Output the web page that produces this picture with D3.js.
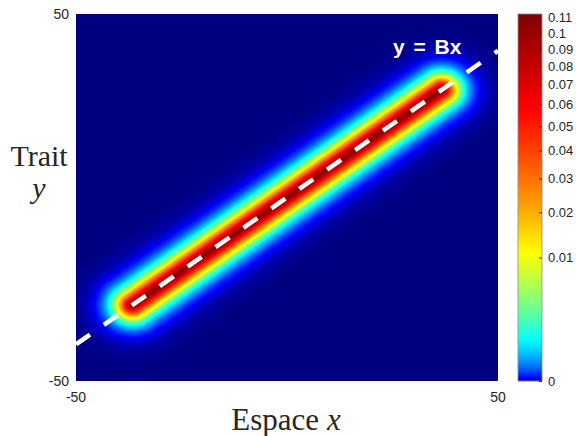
<!DOCTYPE html>
<html>
<head>
<meta charset="utf-8">
<script src="https://cdn.jsdelivr.net/npm/d3@7"></script>
<style>
  body { margin: 0; background: #fff; }
  svg { display: block; }
</style>
</head>
<body>
<div id="chart"></div>
<script>
// axis ranges and labels
var xDomain = [-50, 50];
var yDomain = [-50, 50];
var xTicks = [-50, 50];
var yTicks = [-50, 50];

// colour bar ticks
var cbarTicks = [0, 0.01, 0.02, 0.03, 0.04, 0.05, 0.06, 0.07, 0.08, 0.09, 0.1, 0.11];
var cbarMax = 0.1125;

// band model: y = B x, flat along the segment,
// peaked profile across the line
var slopeB = 0.8;
var bandHalfLength = 36.6;   // in x
var bandWidth = 2.19;        // across the line
var bandShape = 1.64;
var bandPeak = 0.105;

var totalWidth = 576, totalHeight = 436;
var plot = {left: 76, top: 14, right: 498, bottom: 381};
var cbar = {left: 518, right: 542};

var x = d3.scaleLinear().domain(xDomain).range([plot.left, plot.right]);
var y = d3.scaleLinear().domain(yDomain).range([plot.bottom, plot.top]);

// colour bar is nonlinear
var cScale = d3.scalePow().exponent(0.45).domain([0, cbarMax]).range([plot.bottom, plot.top]).clamp(true);
var cFrac = d3.scalePow().exponent(0.45).domain([0, cbarMax]).range([0, 1]).clamp(true);

// jet
var jet = d3.scaleLinear()
    .domain([0, 0.125, 0.375, 0.625, 0.875, 1])
    .range(["#000080", "#0000ff", "#00ffff", "#ffff00", "#ff0000", "#800000"])
    .clamp(true);
function colourOf(v) { return jet(Math.pow(cFrac(v), 0.45)); }

function density(px, py) {
    // distance to segment from (-L,-BL) to (L,BL)
    var L = bandHalfLength;
    var ax = -L, ay = -slopeB * L, bx = L, by = slopeB * L;
    var dx = bx - ax, dy = by - ay;
    var t = ((px - ax) * dx + (py - ay) * dy) / (dx * dx + dy * dy);
    t = Math.max(0, Math.min(1, t));
    var qx = ax + t * dx - px, qy = ay + t * dy - py;
    var d = Math.sqrt(qx * qx + qy * qy);
    return bandPeak * Math.exp(-Math.pow(d / bandWidth, bandShape));
}

var svg = d3.select('#chart').append('svg')
    .attr('width', totalWidth)
    .attr('height', totalHeight)
    .attr('font-family', 'Liberation Sans, Arial, sans-serif');

// heat map drawn pixel by pixel on a canvas, then put in the svg
var w = plot.right - plot.left, h = plot.bottom - plot.top;
var canvas = document.createElement('canvas');
canvas.width = w; canvas.height = h;
var ctx = canvas.getContext('2d');
var img = ctx.createImageData(w, h);
for (var j = 0; j < h; j++) {
    var dy = y.invert(plot.top + j + 0.5);
    for (var i = 0; i < w; i++) {
        var dx = x.invert(plot.left + i + 0.5);
        var c = d3.rgb(colourOf(density(dx, dy)));
        var k = (j * w + i) * 4;
        img.data[k] = c.r; img.data[k + 1] = c.g; img.data[k + 2] = c.b; img.data[k + 3] = 255;
    }
}
ctx.putImageData(img, 0, 0);

svg.append('image')
    .attr('x', plot.left).attr('y', plot.top)
    .attr('width', w).attr('height', h)
    .attr('href', canvas.toDataURL());

svg.append('clipPath').attr('id', 'plotclip')
  .append('rect')
    .attr('x', plot.left).attr('y', plot.top).attr('width', w).attr('height', h);

// y = Bx dashed line
svg.append('line')
    .attr('clip-path', 'url(#plotclip)')
    .attr('x1', x(xDomain[0])).attr('y1', y(slopeB * xDomain[0]))
    .attr('x2', x(xDomain[1])).attr('y2', y(slopeB * xDomain[1]))
    .attr('stroke', '#fff')
    .attr('stroke-width', 4.5)
    .attr('stroke-dasharray', '17,17');

svg.append('text')
    .attr('x', 393).attr('y', 54)
    .attr('fill', '#fff')
    .attr('font-weight', 'bold')
    .attr('font-size', 21)
    .attr('word-spacing', 3)
    .text('y = Bx');

// tick labels
var tickColour = '#262626';
svg.selectAll('.ylab').data(yTicks).enter().append('text')
    .attr('x', 69).attr('y', function(d) { return y(d); })
    .attr('dy', '0.35em')
    .attr('text-anchor', 'end')
    .attr('font-size', 14)
    .attr('fill', tickColour)
    .text(function(d) { return d; });

svg.selectAll('.xlab').data(xTicks).enter().append('text')
    .attr('x', function(d) { return x(d); }).attr('y', 397)
    .attr('dy', '0.35em')
    .attr('text-anchor', 'middle')
    .attr('font-size', 14)
    .attr('fill', tickColour)
    .text(function(d) { return d; });

// axis titles
svg.append('text')
    .attr('x', 286).attr('y', 430)
    .attr('text-anchor', 'middle')
    .attr('font-family', 'Liberation Serif, DejaVu Serif, serif')
    .attr('font-size', 31)
    .attr('fill', tickColour)
    .html('Espace <tspan font-style="italic">x</tspan>');

svg.append('text')
    .attr('x', 39).attr('y', 166)
    .attr('text-anchor', 'middle')
    .attr('font-family', 'Liberation Serif, DejaVu Serif, serif')
    .attr('font-size', 30)
    .attr('fill', tickColour)
    .text('Trait');
svg.append('text')
    .attr('x', 39).attr('y', 198)
    .attr('text-anchor', 'middle')
    .attr('font-family', 'Liberation Serif, DejaVu Serif, serif')
    .attr('font-style', 'italic')
    .attr('font-size', 30)
    .attr('fill', tickColour)
    .text('y');

// colour bar
var rows = d3.range(plot.top, plot.bottom, 1);
svg.append('g').selectAll('rect').data(rows).enter().append('rect')
    .attr('x', cbar.left).attr('y', function(d) { return d; })
    .attr('width', cbar.right - cbar.left).attr('height', 1.2)
    .attr('fill', function(d) { return colourOf(cScale.invert(d + 0.5)); });

svg.append('rect')
    .attr('x', cbar.left).attr('y', plot.top)
    .attr('width', cbar.right - cbar.left).attr('height', plot.bottom - plot.top)
    .attr('fill', 'none').attr('stroke', '#8c8c8c').attr('stroke-width', 0.8);

var cAxis = d3.axisRight(cScale).tickValues(cbarTicks).tickSize(-3).tickPadding(6)
    .tickFormat(function(d) { return d; });
var cg = svg.append('g')
    .attr('transform', 'translate(' + cbar.right + ',0)')
    .call(cAxis);
cg.select('.domain').remove();
cg.selectAll('line').attr('stroke', '#333');
cg.selectAll('text').attr('font-size', 13).attr('fill', tickColour)
    .attr('font-family', 'Liberation Sans, Arial, sans-serif');
</script>
</body>
</html>
